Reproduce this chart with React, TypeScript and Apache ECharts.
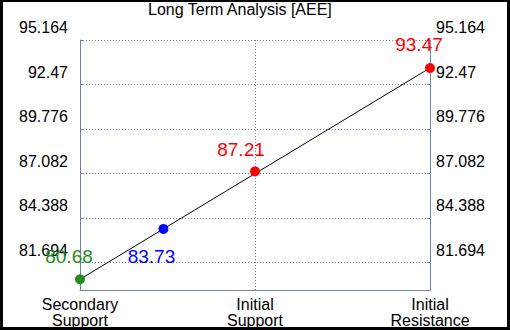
import React, { useEffect, useRef } from "react";
import * as echarts from "echarts";

const titleText = "Long Term Analysis [AEE]";
const categories = ["Secondary\nSupport", "Initial\nSupport", "Initial\nResistance"];
const levelValues = [80.68, 87.21, 93.47];
const levelColors = ["#228B22", "#FF0000", "#FF0000"];
const currentValue = 83.73;
const currentColor = "#0000FF";
const yTicks = [95.164, 92.47, 89.776, 87.082, 84.388, 81.694];
const yMin = 80.03;
const yMax = 95.164;

const AXIS_COLOR = "#6d83a8";
const FONT = "Liberation Sans, Arial, sans-serif";

export default function App() {
  const ref = useRef<HTMLDivElement>(null);
  useEffect(() => {
    document.body.style.margin = "0";
    if (!ref.current) return;
    const chart = echarts.init(ref.current, null, { renderer: "svg" });
    const first = levelValues[0];
    const last = levelValues[levelValues.length - 1];
    const lastX = categories.length - 1;
    const currentX = (lastX * (currentValue - first)) / (last - first);
    const labelOffsets: number[][] = [[-11, -23], [-14, -22], [-11, -23]];

    const pointData: any[] = levelValues.map((v, i) => ({
      value: [i, v],
      itemStyle: { color: levelColors[i], opacity: 1 },
      label: { color: levelColors[i], offset: labelOffsets[i] },
    }));
    pointData.push({
      value: [currentX, currentValue],
      itemStyle: { color: currentColor, opacity: 1 },
      label: { color: currentColor, offset: [-12, 28] },
    });

    const yAxisCommon = {
      type: "value",
      min: yMin,
      max: yMax,
      axisLine: { show: true, lineStyle: { color: AXIS_COLOR, width: 1 } },
      axisTick: { show: true, inside: true, length: 3, customValues: yTicks, lineStyle: { color: AXIS_COLOR } },
      splitLine: { show: true, lineStyle: { color: AXIS_COLOR, type: [1, 2], width: 1 } },
    };

    chart.setOption({
      animation: false,
      backgroundColor: "#ffffff",
      title: {
        text: titleText,
        left: 148,
        top: 0,
        textStyle: { fontFamily: FONT, fontSize: 16, fontWeight: "normal", color: "#000", lineHeight: 18 },
        padding: 0,
      },
      grid: { left: 80, right: 80, top: 40, bottom: 40 },
      xAxis: {
        type: "value",
        min: 0,
        max: lastX,
        interval: 1,
        axisLine: { show: true, lineStyle: { color: AXIS_COLOR, width: 1 } },
        axisTick: { show: false },
        splitLine: { show: true, lineStyle: { color: AXIS_COLOR, type: [1, 2], width: 1 } },
        axisLabel: {
          formatter: (v: number) => categories[Math.round(v)] ?? "",
          fontFamily: FONT,
          fontSize: 16,
          color: "#000",
          lineHeight: 16,
          margin: 6,
          showMinLabel: true,
          showMaxLabel: true,
        },
      },
      yAxis: [
        {
          ...yAxisCommon,
          position: "left",
          axisLabel: {
            customValues: yTicks,
            formatter: (v: number) => String(v),
            fontFamily: FONT,
            fontSize: 16,
            color: "#000",
            margin: 12,
            verticalAlign: "bottom",
            lineHeight: 25,
          },
        },
        {
          ...yAxisCommon,
          position: "right",
          splitLine: { show: false },
          axisLabel: {
            customValues: yTicks,
            formatter: (v: number) => String(v),
            fontFamily: FONT,
            fontSize: 16,
            color: "#000",
            margin: 6,
            verticalAlign: "bottom",
            lineHeight: 25,
          },
        },
      ],
      series: [
        {
          type: "line",
          data: [[0, first], [lastX, last]],
          showSymbol: false,
          symbol: "none",
          lineStyle: { color: "#000", width: 1 },
          z: 2,
          silent: true,
        },
        {
          type: "scatter",
          symbolSize: 10,
          data: pointData,
          z: 3,
          itemStyle: { opacity: 1 },
          label: {
            show: true,
            position: "inside",
            formatter: (p: any) => String(p.value[1]),
            fontFamily: FONT,
            fontSize: 19,
            opacity: 1,
          },
        },
      ],
    });
    return () => chart.dispose();
  }, []);

  return (
    <div style={{ position: "relative", width: 510, height: 330 }}>
      <div ref={ref} style={{ position: "absolute", left: 0, top: 0, width: 510, height: 330 }} />
      <div
        style={{
          position: "absolute",
          left: 0,
          top: 0,
          width: 510,
          height: 330,
          boxSizing: "border-box",
          borderStyle: "solid",
          borderColor: "#000",
          borderWidth: "2px 3px 3px 3px",
          pointerEvents: "none",
        }}
      />
    </div>
  );
}
